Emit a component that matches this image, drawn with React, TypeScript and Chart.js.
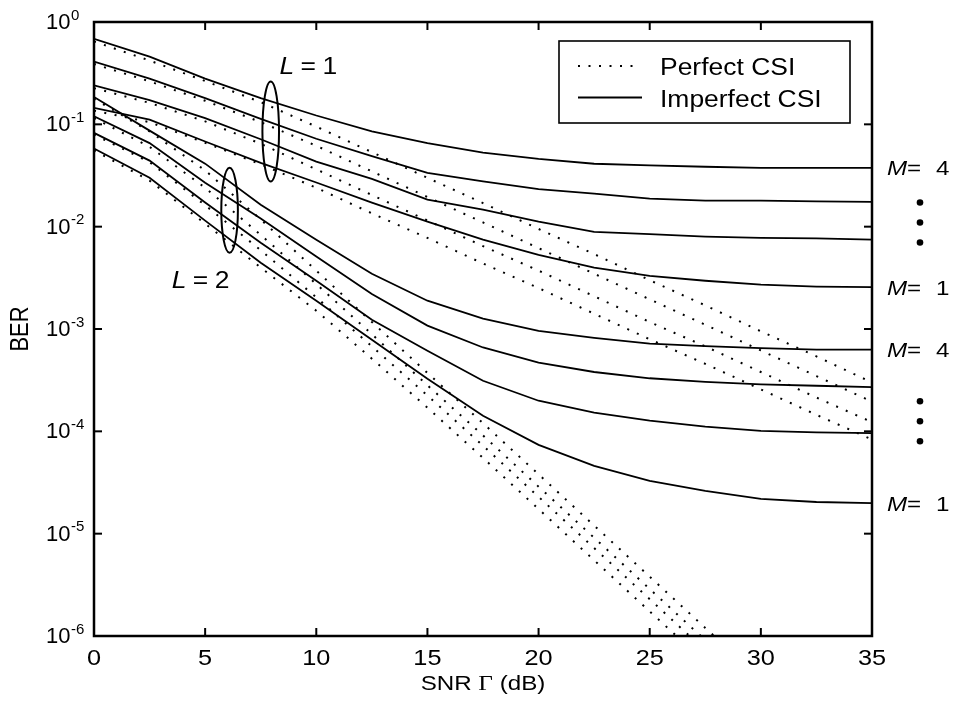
import React, { useEffect, useRef } from 'react';
import { Chart, registerables } from 'chart.js';

Chart.register(...registerables);

// SNR grid (dB) shared by every curve
const SNR_DB = [0, 2.5, 5, 7.5, 10, 12.5, 15, 17.5, 20, 22.5, 25, 27.5, 30, 32.5, 35];
const X_TICKS = [0, 5, 10, 15, 20, 25, 30, 35];
const Y_TICK_EXPONENTS = [0, -1, -2, -3, -4, -5, -6];

// L = 1, imperfect CSI (solid)
const L1_IMPERFECT_M4 = [0.685, 0.458, 0.28, 0.18, 0.122, 0.0855, 0.0655, 0.053, 0.046, 0.0412, 0.0398, 0.0385, 0.0376, 0.0375, 0.0375];
const L1_IMPERFECT_M3 = [0.41, 0.28, 0.18, 0.113, 0.0723, 0.049, 0.0335, 0.0277, 0.0233, 0.021, 0.0188, 0.018, 0.018, 0.0177, 0.0175];
const L1_IMPERFECT_M2 = [0.24, 0.172, 0.115, 0.0715, 0.0432, 0.0293, 0.0184, 0.0147, 0.0112, 0.0089, 0.00845, 0.008, 0.00776, 0.0077, 0.00746];
const L1_IMPERFECT_M1 = [0.145, 0.111, 0.068, 0.042, 0.027, 0.0172, 0.0112, 0.00746, 0.0053, 0.00397, 0.0033, 0.00296, 0.00271, 0.0026, 0.00256];

// L = 1, perfect CSI (dotted)
const L1_PERFECT_M4 = [0.645, 0.42, 0.265, 0.165, 0.095, 0.0535, 0.03, 0.017, 0.0095, 0.0054, 0.003, 0.0017, 0.00095, 0.00054, 0.0003];
const L1_PERFECT_M3 = [0.389, 0.263, 0.17, 0.105, 0.0617, 0.0347, 0.0195, 0.011, 0.00617, 0.00347, 0.00195, 0.0011, 0.000617, 0.000347, 0.000195];
const L1_PERFECT_M2 = [0.226, 0.162, 0.107, 0.0646, 0.0363, 0.0204, 0.0115, 0.00646, 0.00372, 0.00209, 0.00117, 0.000676, 0.00038, 0.000214, 0.000123];
const L1_PERFECT_M1 = [0.136, 0.105, 0.066, 0.0407, 0.024, 0.0135, 0.00776, 0.00437, 0.00251, 0.00141, 0.000794, 0.000457, 0.000257, 0.000145, 0.0000832];

// L = 2, imperfect CSI (solid)
const L2_IMPERFECT_M4 = [0.185, 0.0868, 0.0413, 0.0164, 0.00746, 0.00347, 0.00189, 0.00126, 0.00096, 0.00082, 0.00072, 0.00068, 0.00065, 0.00063, 0.00063];
const L2_IMPERFECT_M3 = [0.12, 0.0656, 0.0269, 0.012, 0.0051, 0.0022, 0.00108, 0.00066, 0.00047, 0.00038, 0.00033, 0.000305, 0.000288, 0.000279, 0.00027];
const L2_IMPERFECT_M2 = [0.0825, 0.0442, 0.0172, 0.00698, 0.00296, 0.00123, 0.000612, 0.000312, 0.000199, 0.000152, 0.000127, 0.000111, 0.000101, 0.0000978, 0.000096];
const L2_IMPERFECT_M1 = [0.058, 0.0301, 0.01145, 0.00445, 0.00189, 0.000785, 0.000326, 0.000142, 0.0000738, 0.000046, 0.0000328, 0.0000262, 0.0000219, 0.0000204, 0.0000199];

// L = 2, perfect CSI (dotted)
const L2_PERFECT_M4 = [0.178, 0.0851, 0.0355, 0.01175, 0.00372, 0.00117, 0.000372, 0.00012, 0.000038, 0.000012, 0.0000038, 0.0000012, 3.8e-7, 1.2e-7, 3.8e-8];
const L2_PERFECT_M3 = [0.115, 0.0603, 0.024, 0.00832, 0.00275, 0.00089, 0.000282, 0.0000912, 0.0000288, 0.00000912, 0.00000288, 9.1e-7, 2.9e-7, 9.1e-8, 2.9e-8];
const L2_PERFECT_M2 = [0.0794, 0.0427, 0.0162, 0.00589, 0.00204, 0.000676, 0.000224, 0.0000724, 0.0000229, 0.00000724, 0.00000229, 7.2e-7, 2.3e-7, 7.2e-8, 2.3e-8];
const L2_PERFECT_M1 = [0.0556, 0.0282, 0.0107, 0.00398, 0.00151, 0.000513, 0.00017, 0.000055, 0.0000174, 0.0000055, 0.00000174, 5.5e-7, 1.74e-7, 5.5e-8, 1.74e-8];

const SERIES: { label: string; values: number[]; perfect: boolean }[] = [
  { label: 'L = 1, M = 4, perfect CSI', values: L1_PERFECT_M4, perfect: true },
  { label: 'L = 1, M = 3, perfect CSI', values: L1_PERFECT_M3, perfect: true },
  { label: 'L = 1, M = 2, perfect CSI', values: L1_PERFECT_M2, perfect: true },
  { label: 'L = 1, M = 1, perfect CSI', values: L1_PERFECT_M1, perfect: true },
  { label: 'L = 2, M = 4, perfect CSI', values: L2_PERFECT_M4, perfect: true },
  { label: 'L = 2, M = 3, perfect CSI', values: L2_PERFECT_M3, perfect: true },
  { label: 'L = 2, M = 2, perfect CSI', values: L2_PERFECT_M2, perfect: true },
  { label: 'L = 2, M = 1, perfect CSI', values: L2_PERFECT_M1, perfect: true },
  { label: 'L = 1, M = 4, imperfect CSI', values: L1_IMPERFECT_M4, perfect: false },
  { label: 'L = 1, M = 3, imperfect CSI', values: L1_IMPERFECT_M3, perfect: false },
  { label: 'L = 1, M = 2, imperfect CSI', values: L1_IMPERFECT_M2, perfect: false },
  { label: 'L = 1, M = 1, imperfect CSI', values: L1_IMPERFECT_M1, perfect: false },
  { label: 'L = 2, M = 4, imperfect CSI', values: L2_IMPERFECT_M4, perfect: false },
  { label: 'L = 2, M = 3, imperfect CSI', values: L2_IMPERFECT_M3, perfect: false },
  { label: 'L = 2, M = 2, imperfect CSI', values: L2_IMPERFECT_M2, perfect: false },
  { label: 'L = 2, M = 1, imperfect CSI', values: L2_IMPERFECT_M1, perfect: false },
];

const SANS = '"Liberation Sans", Arial, Helvetica, sans-serif';
const SERIF = '"Liberation Serif", "Times New Roman", serif';
const STRETCH = 1.15;
const DOT_DASH = [2, 8.5];
const DOT_WIDTH = 2;
const SOLID_WIDTH = 1.8;

function drawText(
  ctx: CanvasRenderingContext2D,
  text: string,
  x: number,
  y: number,
  font: string,
  align: CanvasTextAlign = 'left',
  sx: number = STRETCH,
) {
  ctx.save();
  ctx.font = font;
  ctx.textAlign = align;
  ctx.textBaseline = 'alphabetic';
  ctx.translate(x, y);
  ctx.scale(sx, 1);
  ctx.fillText(text, 0, 0);
  ctx.restore();
}

function textWidth(ctx: CanvasRenderingContext2D, text: string, font: string) {
  ctx.font = font;
  return ctx.measureText(text).width * STRETCH;
}

function segment(ctx: CanvasRenderingContext2D, x1: number, y1: number, x2: number, y2: number) {
  ctx.beginPath();
  ctx.moveTo(x1, y1);
  ctx.lineTo(x2, y2);
  ctx.stroke();
}

const figurePlugin = {
  id: 'figureDecor',
  beforeDraw(chart: any) {
    const { ctx, width, height } = chart;
    ctx.save();
    ctx.fillStyle = '#fff';
    ctx.fillRect(0, 0, width, height);
    ctx.restore();
  },
  afterDraw(chart: any) {
    const ctx: CanvasRenderingContext2D = chart.ctx;
    const a = chart.chartArea;
    const xs = chart.scales.x;
    const ys = chart.scales.y;
    const px = (v: number) => xs.getPixelForValue(v);
    const py = (v: number) => ys.getPixelForValue(v);

    ctx.save();
    ctx.strokeStyle = '#000';
    ctx.fillStyle = '#000';
    ctx.setLineDash([]);

    // inward tick marks on all four sides
    ctx.lineWidth = 2;
    X_TICKS.forEach((v) => {
      const x = px(v);
      segment(ctx, x, a.bottom, x, a.bottom - 8);
      segment(ctx, x, a.top, x, a.top + 8);
    });
    Y_TICK_EXPONENTS.forEach((e) => {
      const y = py(Math.pow(10, e));
      segment(ctx, a.left, y, a.left + 8, y);
      segment(ctx, a.right, y, a.right - 8, y);
    });

    // axes box
    ctx.lineWidth = 2.5;
    ctx.strokeRect(a.left, a.top, a.right - a.left, a.bottom - a.top);

    // x tick labels
    const tickFont = `22px ${SANS}`;
    X_TICKS.forEach((v) => drawText(ctx, String(v), px(v), a.bottom + 29, tickFont, 'center'));

    // y tick labels as powers of ten
    const expFont = `15px ${SANS}`;
    Y_TICK_EXPONENTS.forEach((e) => {
      const y = py(Math.pow(10, e));
      drawText(ctx, '10', a.left - 23.5, y + 7, tickFont, 'right', 1);
      drawText(ctx, String(e), a.left - 23, y - 2.5, expFont, 'left', 1);
    });

    // x axis title: SNR Γ (dB)
    const titleFont = `21px ${SANS}`;
    const greekFont = `22px ${SERIF}`;
    const p1 = 'SNR ';
    const p2 = 'Γ';
    const p3 = ' (dB)';
    const w1 = textWidth(ctx, p1, titleFont);
    const w2 = textWidth(ctx, p2, greekFont);
    const w3 = textWidth(ctx, p3, titleFont);
    let tx = (a.left + a.right) / 2 - (w1 + w2 + w3) / 2;
    const ty = a.bottom + 54;
    drawText(ctx, p1, tx, ty, titleFont);
    tx += w1;
    drawText(ctx, p2, tx, ty, greekFont);
    tx += w2;
    drawText(ctx, p3, tx, ty, titleFont);

    // y axis title
    ctx.save();
    ctx.translate(28, (a.top + a.bottom) / 2);
    ctx.scale(STRETCH, 1);
    ctx.rotate(-Math.PI / 2);
    ctx.font = `22px ${SANS}`;
    ctx.textAlign = 'center';
    ctx.textBaseline = 'alphabetic';
    ctx.fillText('BER', 0, 0);
    ctx.restore();

    // legend box
    const lx = 559;
    const ly = 41;
    ctx.fillStyle = '#fff';
    ctx.fillRect(lx, ly, 291, 82);
    ctx.fillStyle = '#000';
    ctx.lineWidth = 1.6;
    ctx.strokeRect(lx, ly, 291, 82);
    ctx.lineWidth = DOT_WIDTH;
    ctx.setLineDash(DOT_DASH);
    segment(ctx, lx + 19, ly + 25, lx + 80, ly + 25);
    ctx.setLineDash([]);
    ctx.lineWidth = SOLID_WIDTH;
    segment(ctx, lx + 19, ly + 56.5, lx + 83, ly + 56.5);
    const legendFont = `23px ${SANS}`;
    drawText(ctx, 'Perfect CSI', lx + 101, ly + 33.5, legendFont);
    drawText(ctx, 'Imperfect CSI', lx + 101, ly + 65.5, legendFont);

    // diversity-order groups: ellipses and labels
    const annFont = `23px ${SANS}`;
    const annItalic = `italic 23px ${SANS}`;
    ctx.lineWidth = 2;
    ctx.beginPath();
    ctx.ellipse(px(7.95), py(Math.pow(10, -1.07)), 8.3, 50, 0, 0, Math.PI * 2);
    ctx.stroke();
    ctx.beginPath();
    ctx.ellipse(px(6.1), py(Math.pow(10, -1.84)), 8.3, 42.5, 0, 0, Math.PI * 2);
    ctx.stroke();

    const l1x = px(8.35);
    const l1y = py(Math.pow(10, -0.505));
    drawText(ctx, 'L', l1x, l1y, annItalic);
    drawText(ctx, '=', l1x + 21, l1y, annFont);
    drawText(ctx, '1', l1x + 43, l1y, annFont);
    const l2x = px(3.5);
    const l2y = py(Math.pow(10, -2.6));
    drawText(ctx, 'L', l2x, l2y, annItalic);
    drawText(ctx, '=', l2x + 21, l2y, annFont);
    drawText(ctx, '2', l2x + 43, l2y, annFont);

    // modulation-order labels at the right ends of the solid curves
    const mFont = `21px ${SANS}`;
    const mItalic = `italic 21px ${SANS}`;
    const last = (arr: number[]) => py(arr[arr.length - 1]);
    const mx = a.right + 15;
    const mLabel = (digit: string, y: number) => {
      drawText(ctx, 'M', mx, y + 7.5, mItalic);
      drawText(ctx, '=', mx + 20, y + 7.5, mFont);
      drawText(ctx, digit, mx + 49, y + 7.5, mFont);
    };
    const groups = [
      [L1_IMPERFECT_M4, L1_IMPERFECT_M1],
      [L2_IMPERFECT_M4, L2_IMPERFECT_M1],
    ];
    groups.forEach(([top, bottom]) => {
      const yTop = last(top);
      const yBot = last(bottom);
      mLabel('4', yTop);
      mLabel('1', yBot);
      const mid = (yTop + yBot) / 2 - 5;
      [-20, 0, 20].forEach((d) => {
        ctx.beginPath();
        ctx.arc(mx + 33, mid + d, 3.3, 0, Math.PI * 2);
        ctx.fill();
      });
    });

    ctx.restore();
  },
};

export default function App() {
  const ref = useRef<HTMLCanvasElement>(null);

  useEffect(() => {
    document.body.style.margin = '0';
    const canvas = ref.current;
    if (!canvas) return;
    const datasets = SERIES.map((s) => ({
      label: s.label,
      data: SNR_DB.map((x, i) => ({ x, y: s.values[i] })),
      borderColor: '#000',
      backgroundColor: '#000',
      borderWidth: s.perfect ? DOT_WIDTH : SOLID_WIDTH,
      borderDash: s.perfect ? DOT_DASH : [],
      pointRadius: 0,
      tension: 0,
      fill: false,
    }));
    const chart = new Chart(canvas, {
      type: 'line',
      data: { datasets },
      options: {
        responsive: false,
        animation: false,
        devicePixelRatio: 1,
        events: [],
        layout: { padding: { left: 94, right: 84, top: 22, bottom: 72 } },
        plugins: { legend: { display: false }, tooltip: { enabled: false } },
        scales: {
          x: { type: 'linear', min: 0, max: 35, display: false },
          y: { type: 'logarithmic', min: 1e-6, max: 1, display: false },
        },
      },
      plugins: [figurePlugin],
    } as any);
    return () => chart.destroy();
  }, []);

  return (
    <div style={{ width: 956, height: 708 }}>
      <canvas ref={ref} width={956} height={708} style={{ display: 'block' }} />
    </div>
  );
}
